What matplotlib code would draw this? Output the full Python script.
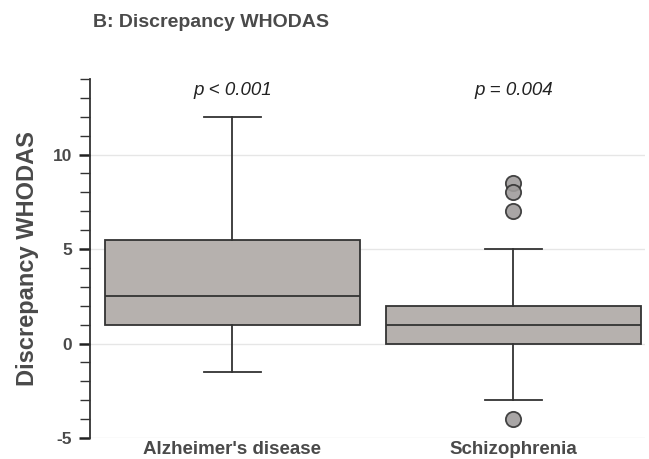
import matplotlib
matplotlib.use("Agg")
import matplotlib.pyplot as plt

plt.rcParams['font.family'] = ['Liberation Sans', 'DejaVu Sans']
plt.rcParams['axes.unicode_minus'] = False

# summary stats
groups = ["Alzheimer's disease", "Schizophrenia"]
q1 = [1.0, 0.0]
med = [2.5, 1.0]
q3 = [5.5, 2.0]
whislo = [-1.5, -3.0]
whishi = [12.0, 5.0]
fliers = [[], [8.5, 8.0, 7.0, -4.0]]
p_labels = ["p < 0.001", "p = 0.004"]

stats = []
for i in range(len(groups)):
    stats.append(dict(label=groups[i], q1=q1[i], med=med[i], q3=q3[i],
                      whislo=whislo[i], whishi=whishi[i], fliers=fliers[i]))

fig = plt.figure(figsize=(6.49, 4.59), dpi=100)
ax = fig.add_axes([0.1387, 0.0458, 0.855, 0.782])

txt_col = '#4a4a4a'
line_col = '#333333'

ax.bxp(stats, positions=[1, 2], widths=0.907, patch_artist=True,
       boxprops=dict(facecolor='#b6b1ae', edgecolor=line_col, linewidth=1.3),
       medianprops=dict(color=line_col, linewidth=1.3),
       whiskerprops=dict(color=line_col, linewidth=1.3),
       capprops=dict(color=line_col, linewidth=1.3),
       capwidths=0.2,
       flierprops=dict(marker='o', markersize=11, markerfacecolor='#a09d9c',
                       markeredgecolor=line_col, markeredgewidth=1.3, alpha=0.9),
       zorder=3)

ax.set_xlim(0.493, 2.468)
ax.set_ylim(-5, 14)
ax.set_yticks([-5, 0, 5, 10])
ax.set_yticks(range(-5, 15), minor=True)
ax.yaxis.grid(True, which='major', color='#e6e6e6', linewidth=1, zorder=0)

for s in ['top', 'right', 'bottom']:
    ax.spines[s].set_visible(False)
ax.spines['left'].set_color(line_col)
ax.spines['left'].set_linewidth(1.3)

ax.tick_params(axis='y', which='major', length=8, width=1.8, color='#222222',
               labelsize=12.5, labelcolor=txt_col, pad=5)
ax.tick_params(axis='y', which='minor', length=7, width=1.0, color='#333333')
ax.tick_params(axis='x', length=0, labelsize=13.5, labelcolor=txt_col, pad=2)
for lab in ax.get_yticklabels() + ax.get_xticklabels():
    lab.set_fontweight('bold')

ax.set_ylabel("Discrepancy WHODAS", fontsize=17, fontweight='bold',
              color=txt_col, labelpad=10)

for i, p in enumerate(p_labels):
    ax.text(i + 1, 13.4, p, ha='center', va='center', fontsize=13.5,
            style='italic', color='#222222')

fig.text(0.143, 0.950, "B: Discrepancy WHODAS", fontsize=14, fontweight='bold',
         color=txt_col, ha='left', va='center')

fig.savefig("out.png", dpi=100)
